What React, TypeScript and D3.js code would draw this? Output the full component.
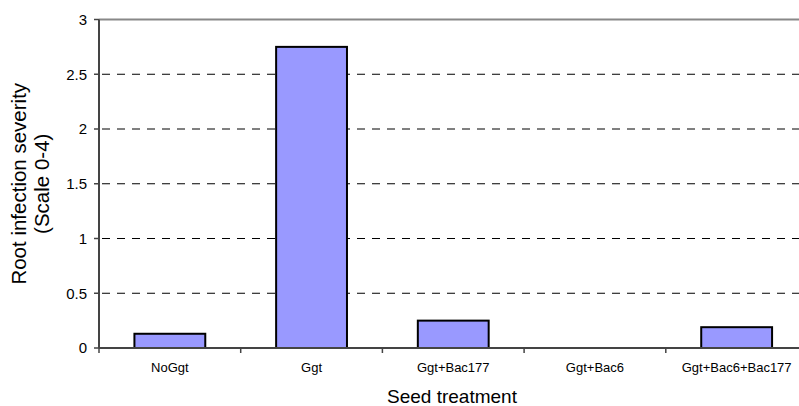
import React from "react";
import * as d3 from "d3";

const categories = ["NoGgt", "Ggt", "Ggt+Bac177", "Ggt+Bac6", "Ggt+Bac6+Bac177"];
const severity = [0.13, 2.75, 0.25, 0, 0.19];
const yTicks = [0, 0.5, 1, 1.5, 2, 2.5, 3];

const width = 799;
const height = 406;
const margin = { top: 19.5, right: -8.5, bottom: 58, left: 99 };
const font = "Arial, 'Liberation Sans', sans-serif";

const App = () => {
  const x = d3
    .scaleBand()
    .domain(categories)
    .range([margin.left, width - margin.right])
    .paddingInner(0.5)
    .paddingOuter(0.25);
  const y = d3
    .scaleLinear()
    .domain([0, 3])
    .range([height - margin.bottom, margin.top]);

  const step = x.step();
  const x0 = margin.left;
  const x1 = width - margin.right;
  const bottom = y(0);
  const midY = (y(3) + bottom) / 2;

  return (
    <svg
      width={width}
      height={height}
      style={{ position: "absolute", left: 0, top: 0, background: "#fff" }}
      fontFamily={font}
    >
      {/* gridlines */}
      {yTicks
        .filter((t) => t > 0 && t < 3)
        .map((t) => (
          <line
            key={t}
            x1={x0}
            x2={x1}
            y1={y(t)}
            y2={y(t)}
            stroke="#000"
            strokeWidth={1}
            strokeDasharray="8 7"
            strokeDashoffset={-3}
          />
        ))}
      {/* top border */}
      <line x1={x0} x2={x1} y1={y(3)} y2={y(3)} stroke="#888" strokeWidth={2} />

      {/* bars */}
      {categories.map((c, i) =>
        severity[i] > 0 ? (
          <rect
            key={c}
            x={x(c)}
            y={y(severity[i])}
            width={x.bandwidth()}
            height={bottom - y(severity[i])}
            fill="#9999FF"
            stroke="#000"
            strokeWidth={2}
          />
        ) : null
      )}

      {/* y axis */}
      <line x1={x0} x2={x0} y1={y(3)} y2={bottom} stroke="#444" strokeWidth={2} />
      {yTicks.map((t) => (
        <g key={t}>
          <line x1={x0 - 5} x2={x0} y1={y(t)} y2={y(t)} stroke="#444" strokeWidth={1.5} />
          <text
            x={x0 - 12}
            y={y(t)}
            dy="0.36em"
            textAnchor="end"
            fontSize={15}
            fill="#000"
          >
            {t}
          </text>
        </g>
      ))}

      {/* x axis */}
      <line x1={x0} x2={x1} y1={bottom} y2={bottom} stroke="#444" strokeWidth={2} />
      {d3.range(categories.length + 1).map((i) => (
        <line
          key={i}
          x1={x0 + i * step}
          x2={x0 + i * step}
          y1={bottom}
          y2={bottom + 5}
          stroke="#444"
          strokeWidth={1.5}
        />
      ))}
      {categories.map((c) => (
        <text
          key={c}
          x={(x(c) ?? 0) + x.bandwidth() / 2}
          y={372}
          textAnchor="middle"
          fontSize={13}
          fill="#000"
        >
          {c}
        </text>
      ))}

      {/* axis titles */}
      <text x={452} y={403} textAnchor="middle" fontSize={19} fill="#000">
        Seed treatment
      </text>
      <text
        transform={`translate(26,${midY}) rotate(-90)`}
        textAnchor="middle"
        fontSize={20.5}
        fill="#000"
      >
        Root infection severity
      </text>
      <text
        transform={`translate(49,${midY}) rotate(-90)`}
        textAnchor="middle"
        fontSize={20.5}
        fill="#000"
      >
        (Scale 0-4)
      </text>
    </svg>
  );
};

export default App;
